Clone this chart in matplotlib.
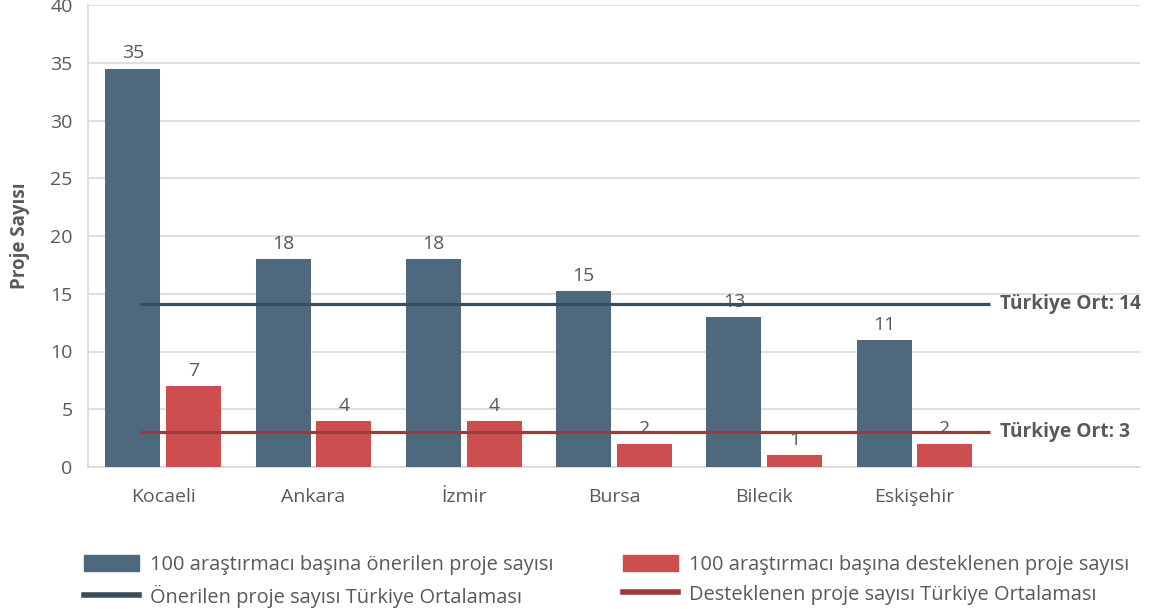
import matplotlib
matplotlib.use("Agg")
import matplotlib.pyplot as plt
from matplotlib.patches import Patch
from matplotlib.lines import Line2D
import numpy as np

plt.rcParams['font.family'] = ['Open Sans', 'DejaVu Sans']

categories = ["Kocaeli", "Ankara", "İzmir", "Bursa", "Bilecik", "Eskişehir"]
onerilen = [34.5, 18, 18, 15.2, 13, 11]
onerilen_labels = ["35", "18", "18", "15", "13", "11"]
desteklenen = [7, 4, 4, 2, 1, 2]
desteklenen_labels = ["7", "4", "4", "2", "1", "2"]
ort_onerilen = 14.1
ort_desteklenen = 3.05
ort_onerilen_text = "Türkiye Ort: 14"
ort_desteklenen_text = "Türkiye Ort: 3"
legend_labels = ["100 araştırmacı başına önerilen proje sayısı",
                 "Önerilen proje sayısı Türkiye Ortalaması",
                 "100 araştırmacı başına desteklenen proje sayısı",
                 "Desteklenen proje sayısı Türkiye Ortalaması"]
ylabel = "Proje Sayısı"

BLUE = "#4E697E"
RED = "#CD4E4F"
DARK = "#3A4D5C"
DRED = "#A03A3A"
TXT = "#595959"
GRID = "#D9D9D9"
FS = 14.0

fig = plt.figure(figsize=(11.49, 6.09), dpi=100)
ax = fig.add_axes([88/1149, 1-467/609, 1052/1149, 462/609])

x = np.arange(len(categories))
w = 0.366
off = 0.202
b1 = ax.bar(x - off, onerilen, w, color=BLUE, zorder=3)
b2 = ax.bar(x + off, desteklenen, w, color=RED, zorder=3)

for rect, lab in zip(b1, onerilen_labels):
    ax.annotate(lab, (rect.get_x() + rect.get_width()/2, rect.get_height()),
                xytext=(0, 4.5), textcoords="offset points", ha="center", va="bottom",
                fontsize=FS, color=TXT)
for rect, lab in zip(b2, desteklenen_labels):
    ax.annotate(lab, (rect.get_x() + rect.get_width()/2, rect.get_height()),
                xytext=(0, 4.5), textcoords="offset points", ha="center", va="bottom",
                fontsize=FS, color=TXT)

x0, x1 = -0.155, 5.5
ax.plot([x0, x1], [ort_onerilen]*2, color=DARK, lw=2.3, zorder=4, solid_capstyle='butt')
ax.plot([x0, x1], [ort_desteklenen]*2, color=DRED, lw=2.3, zorder=4, solid_capstyle='butt')
ax.text(x1 + 0.07, ort_onerilen, ort_onerilen_text, fontsize=13.8, fontweight='bold',
        color=TXT, va='center', ha='left')
ax.text(x1 + 0.07, ort_desteklenen, ort_desteklenen_text, fontsize=13.8, fontweight='bold',
        color=TXT, va='center', ha='left')

ax.set_xlim(-0.5, 6.5)
ax.set_ylim(0, 40)
ax.set_yticks(range(0, 41, 5))
ax.set_xticks(x)
ax.set_xticklabels(categories)
ax.tick_params(axis='both', length=0, labelsize=FS, labelcolor=TXT)
ax.tick_params(axis='y', pad=11)
ax.tick_params(axis='x', pad=15)
ax.grid(axis='y', color=GRID, lw=1.2, zorder=0)
for s in ['top', 'right']:
    ax.spines[s].set_visible(False)
for s in ['left', 'bottom']:
    ax.spines[s].set_color(GRID)
    ax.spines[s].set_linewidth(1.2)

ax.set_ylabel(ylabel, fontsize=13.5, fontweight='bold', color=TXT)
ax.yaxis.set_label_coords(-0.055, 0.5)

h1 = [Patch(color=BLUE), Line2D([], [], color=DARK, lw=4)]
h2 = [Patch(color=RED), Line2D([], [], color=DRED, lw=4)]
common = dict(loc='upper left', frameon=False, fontsize=14.4, handlelength=2.75,
              handleheight=0.8, handletextpad=0.55, labelspacing=0.48,
              borderpad=0, borderaxespad=0, labelcolor=TXT)
fig.legend(h1, legend_labels[:2], bbox_to_anchor=(84/1149, 1-555/609), **common)
fig.legend(h2, legend_labels[2:], bbox_to_anchor=(623/1149, 1-555/609), **common)

fig.savefig("out.png", dpi=100)
